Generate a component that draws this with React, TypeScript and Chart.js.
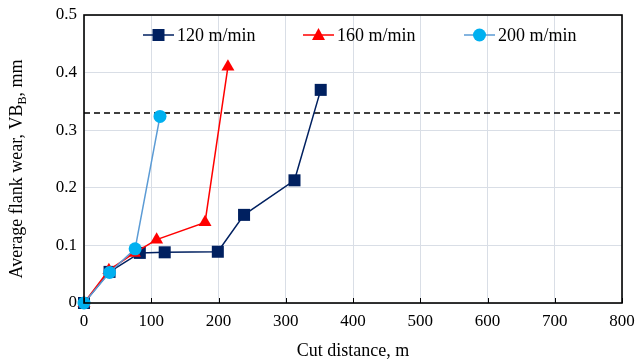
import React, { useEffect, useRef } from "react";
import { Chart, registerables } from "chart.js";

Chart.register(...registerables);

const cut120 = [0, 38, 83, 120, 199, 238, 313, 352];
const wear120 = [0, 0.054, 0.087, 0.088, 0.089, 0.153, 0.213, 0.37];
const cut160 = [0, 37, 75, 108, 180, 214];
const wear160 = [0, 0.057, 0.087, 0.11, 0.14, 0.41];
const cut200 = [0, 38, 76, 113];
const wear200 = [0, 0.053, 0.094, 0.324];
const limitX = [0, 800];
const limitWear = 0.33;
const seriesLabels = ["120 m/min", "160 m/min", "200 m/min"];
const xTitle = "Cut distance, m";
const yTitleMain = "Average flank wear, VB";
const yTitleSub = "B";
const yTitleEnd = ", mm";

const FONT = "'Liberation Serif', 'Times New Roman', serif";

function drawMarker(ctx: CanvasRenderingContext2D, style: string, x: number, y: number, color: string) {
  ctx.save();
  ctx.fillStyle = color;
  ctx.beginPath();
  if (style === "rect") {
    ctx.rect(x - 6, y - 6, 12, 12);
  } else if (style === "triangle") {
    ctx.moveTo(x, y - 7);
    ctx.lineTo(x + 6.5, y + 5);
    ctx.lineTo(x - 6.5, y + 5);
    ctx.closePath();
  } else {
    ctx.arc(x, y, 6.5, 0, Math.PI * 2);
  }
  ctx.fill();
  ctx.restore();
}

const decorPlugin = {
  id: "decor",
  afterDraw(chart: any) {
    const ctx: CanvasRenderingContext2D = chart.ctx;
    const area = chart.chartArea;
    const xs = chart.scales.x;
    ctx.save();
    ctx.strokeStyle = "#000";
    ctx.lineWidth = 1;
    xs.ticks.forEach((t: any) => {
      const px = Math.round(xs.getPixelForValue(t.value)) + 0.5;
      ctx.beginPath();
      ctx.moveTo(px, area.bottom);
      ctx.lineTo(px, area.bottom - 5);
      ctx.stroke();
    });
    ctx.lineWidth = 1.6;
    ctx.strokeRect(area.left, area.top, area.right - area.left, area.bottom - area.top);

    const legendY = 35;
    const items = [
      { x: 143, color: "#002060", mColor: "#002060", style: "rect" },
      { x: 303, color: "#FF0000", mColor: "#FF0000", style: "triangle" },
      { x: 464, color: "#5B9BD5", mColor: "#00B0F0", style: "circle" },
    ];
    ctx.font = `18px ${FONT}`;
    ctx.textBaseline = "middle";
    ctx.textAlign = "left";
    items.forEach((it, i) => {
      ctx.strokeStyle = it.color;
      ctx.lineWidth = 1.5;
      ctx.beginPath();
      ctx.moveTo(it.x, legendY);
      ctx.lineTo(it.x + 31, legendY);
      ctx.stroke();
      drawMarker(ctx, it.style, it.x + 15.5, legendY, it.mColor);
      ctx.fillStyle = "#000";
      ctx.fillText(seriesLabels[i], it.x + 34, legendY + 1);
    });

    ctx.textAlign = "center";
    ctx.textBaseline = "alphabetic";
    ctx.fillStyle = "#000";
    ctx.font = `18px ${FONT}`;
    ctx.fillText(xTitle, (area.left + area.right) / 2, 356);

    ctx.save();
    ctx.translate(22, 169);
    ctx.rotate(-Math.PI / 2);
    ctx.font = `18px ${FONT}`;
    const w1 = ctx.measureText(yTitleMain).width;
    const w3 = ctx.measureText(yTitleEnd).width;
    ctx.font = `12px ${FONT}`;
    const w2 = ctx.measureText(yTitleSub).width;
    const total = w1 + w2 + w3;
    let cx = -total / 2;
    ctx.textAlign = "left";
    ctx.font = `18px ${FONT}`;
    ctx.fillText(yTitleMain, cx, 0);
    cx += w1;
    ctx.font = `12px ${FONT}`;
    ctx.fillText(yTitleSub, cx, 4);
    cx += w2;
    ctx.font = `18px ${FONT}`;
    ctx.fillText(yTitleEnd, cx, 0);
    ctx.restore();

    ctx.restore();
  },
};

const zeroPad = (s: any) => {
  s.paddingLeft = 0;
  s.paddingRight = 0;
  s.paddingTop = 0;
  s.paddingBottom = 0;
};

export default function App() {
  const ref = useRef<HTMLCanvasElement | null>(null);
  useEffect(() => {
    document.body.style.margin = "0";
    if (!ref.current) return;
    const toPts = (xs: number[], ys: number[]) => xs.map((x, i) => ({ x, y: ys[i] }));
    const chart = new Chart(ref.current, {
      type: "line",
      data: {
        datasets: [
          {
            label: "limit",
            data: limitX.map((x) => ({ x, y: limitWear })),
            borderColor: "#000",
            borderWidth: 1.5,
            borderDash: [6, 4],
            pointRadius: 0,
            order: 4,
          },
          {
            label: seriesLabels[0],
            data: toPts(cut120, wear120),
            borderColor: "#002060",
            backgroundColor: "#002060",
            borderWidth: 1.5,
            pointStyle: "rect",
            pointRadius: 8.5,
            pointBorderWidth: 0,
            clip: false,
            order: 3,
          },
          {
            label: seriesLabels[1],
            data: toPts(cut160, wear160),
            borderColor: "#FF0000",
            backgroundColor: "#FF0000",
            borderWidth: 1.5,
            pointStyle: "triangle",
            pointRadius: 7.5,
            pointBorderWidth: 0,
            clip: false,
            order: 2,
          },
          {
            label: seriesLabels[2],
            data: toPts(cut200, wear200),
            borderColor: "#5B9BD5",
            backgroundColor: "#00B0F0",
            borderWidth: 1.5,
            pointStyle: "circle",
            pointRadius: 6.5,
            pointBorderWidth: 0,
            clip: false,
            order: 1,
          },
        ],
      },
      options: {
        responsive: false,
        animation: false,
        layout: { autoPadding: false, padding: { top: 15, right: 14, left: 0, bottom: 0 } },
        plugins: { legend: { display: false }, tooltip: { enabled: false } },
        scales: {
          x: {
            type: "linear",
            min: 0,
            max: 800,
            ticks: { stepSize: 100, color: "#000", font: { family: FONT, size: 17 }, padding: 8, maxRotation: 0 },
            grid: { color: "#D9DEE6", drawTicks: false },
            border: { display: false },
            afterFit: (s: any) => {
              s.height = 61;
              zeroPad(s);
            },
          },
          y: {
            type: "linear",
            min: 0,
            max: 0.5,
            ticks: {
              stepSize: 0.1,
              color: "#000",
              font: { family: FONT, size: 17 },
              padding: 7,
              callback: (v: any) => (v === 0 ? "0" : Number(v).toFixed(1)),
            },
            grid: { color: "#D9DEE6", drawTicks: false },
            border: { display: false },
            afterFit: (s: any) => {
              s.width = 84;
              zeroPad(s);
            },
          },
        },
      },
      plugins: [decorPlugin],
    } as any);
    return () => chart.destroy();
  }, []);
  return (
    <div style={{ position: "absolute", left: 0, top: 0, width: 636, height: 364, background: "#fff" }}>
      <canvas ref={ref} width={636} height={364} />
    </div>
  );
}
